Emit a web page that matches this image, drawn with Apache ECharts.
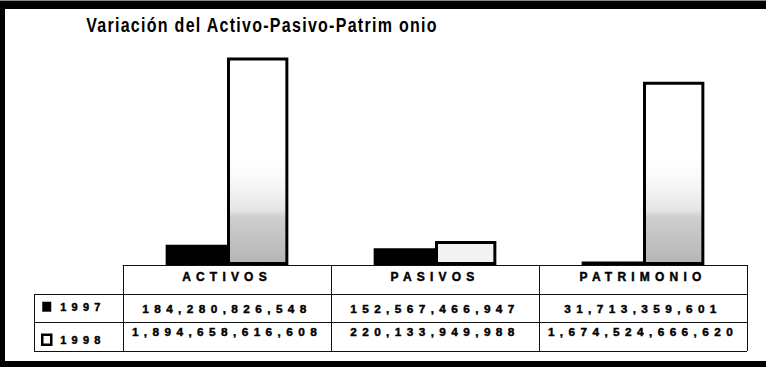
<!DOCTYPE html>
<html>
<head>
<meta charset="utf-8">
<script src="https://cdn.jsdelivr.net/npm/echarts@6/dist/echarts.min.js"></script>
<style>
  html, body { margin: 0; padding: 0; background: #fff; }
  #chart { width: 766px; height: 367px; }
</style>
</head>
<body>
<div id="chart"></div>
<script>
// Balance figures by account group and year
const categories = ['ACTIVOS', 'PASIVOS', 'PATRIMONIO'];
const years = ['1997', '1998'];
const values1997 = [184280826548, 152567466947, 31713359601];
const values1998 = [1894658616608, 220133949988, 1674524666620];
const titleText = 'Variación del Activo-Pasivo-Patrim onio';

const W = 766, H = 367;
const GRID = { left: 123, right: 19, top: 46, bottom: 102 };
const axisY = H - GRID.bottom;            // baseline of the bars / top of the table
const rowLines = [axisY + 29, axisY + 57, axisY + 86];
const tableLeft = 34, tableRight = W - GRID.right;

const fmt = v => v.toLocaleString('en-US');
const labelFont = '"Liberation Sans", Arial, sans-serif';
// heavy lettering for the table
const heavy = { fontFamily: labelFont, fontWeight: 'bold', color: '#000', textBorderColor: '#000', textBorderWidth: 0.45 };

// 1998 bars: white boxes with a grey wash towards the base
const wash = {
  type: 'linear', x: 0, y: axisY - 110, x2: 0, y2: axisY, global: true,
  colorStops: [
    { offset: 0, color: '#ffffff' },
    { offset: 0.2, color: '#fafafa' },
    { offset: 0.5, color: '#e6e6e6' },
    { offset: 0.56, color: '#cfcfcf' },
    { offset: 1, color: '#b4b4b4' }
  ]
};
const fill1998 = [wash, '#f2f2f2', wash];

const chart = echarts.init(document.getElementById('chart'), null, { renderer: 'svg' });

const hLine = (x1, x2, y) => ({
  type: 'line', silent: true, z: 5,
  shape: { x1, y1: y + 0.5, x2, y2: y + 0.5 },
  style: { stroke: '#111', lineWidth: 1 }
});

chart.setOption({
  animation: false,
  backgroundColor: '#fff',
  legend: {
    orient: 'vertical', left: 41, top: 301, padding: 0,
    itemWidth: 9, itemHeight: 10, itemGap: 21,
    icon: 'rect',
    textStyle: Object.assign({ fontSize: 11, padding: [0, 0, 0, 4] }, heavy),
    data: [
      { name: years[0], itemStyle: { color: '#000' } },
      { name: years[1], itemStyle: { color: '#fff', borderColor: '#000', borderWidth: 2.5 } }
    ]
  },
  grid: GRID,
  xAxis: [
    {
      type: 'category', data: categories, position: 'bottom',
      axisLine: { lineStyle: { color: '#111', width: 1 } },
      axisTick: { show: true, length: 86, lineStyle: { color: '#111', width: 1 } },
      axisLabel: Object.assign({ margin: 6, fontSize: 12 }, heavy)
    },
    {
      type: 'category', data: categories, position: 'bottom', offset: 38,
      axisLine: { show: false }, axisTick: { show: false },
      axisLabel: Object.assign({ margin: 0, fontSize: 11.8, formatter: (v, i) => fmt(values1997[i]) }, heavy)
    },
    {
      type: 'category', data: categories, position: 'bottom', offset: 61,
      axisLine: { show: false }, axisTick: { show: false },
      axisLabel: Object.assign({ margin: 0, fontSize: 11.8, formatter: (v, i) => fmt(values1998[i]) }, heavy)
    }
  ],
  yAxis: { type: 'value', min: 0, max: 2e12, show: false, splitLine: { show: false } },
  series: [
    {
      name: years[0], type: 'bar', xAxisIndex: 0,
      barGap: 0, barCategoryGap: '41%',
      itemStyle: { color: '#000' },
      data: values1997
    },
    {
      name: years[1], type: 'bar', xAxisIndex: 0,
      barGap: 0, barCategoryGap: '41%',
      itemStyle: { borderColor: '#000', borderWidth: 3 },
      data: values1998.map((v, i) => ({ value: v, itemStyle: { color: fill1998[i] } }))
    }
  ],
  graphic: [
    // condensed heading
    { type: 'text', silent: true, z: 20, x: 262, y: 25, scaleX: 0.8, scaleY: 1,
      style: { text: titleText, textAlign: 'center', textVerticalAlign: 'middle',
        font: 'bold 20px "Liberation Sans", Arial, sans-serif', fill: '#000' } },
    // page frame
    { type: 'rect', silent: true, z: 10, shape: { x: 0, y: 0, width: W, height: 9 }, style: { fill: '#000' } },
    { type: 'rect', silent: true, z: 11, shape: { x: 0, y: 0, width: W, height: 1 }, style: { fill: '#8a8a8a' } },
    { type: 'rect', silent: true, z: 10, shape: { x: 0, y: 0, width: 5, height: H }, style: { fill: '#000' } },
    { type: 'rect', silent: true, z: 10, shape: { x: 0, y: H - 6, width: W, height: 6 }, style: { fill: '#000' } },
    // data table rules
    hLine(tableLeft, tableRight, rowLines[0]),
    hLine(tableLeft, tableRight, rowLines[1]),
    hLine(tableLeft, tableRight, rowLines[2]),
    { type: 'line', silent: true, z: 5,
      shape: { x1: tableLeft + 0.5, y1: rowLines[0], x2: tableLeft + 0.5, y2: rowLines[2] + 1 },
      style: { stroke: '#111', lineWidth: 1 } }
  ]
});

// Wide tracking on the texts, keyed by their font size
function spaceLetters() {
  document.querySelectorAll('#chart svg text').forEach(t => {
    const fs = parseFloat(getComputedStyle(t).fontSize);
    let ls = 0;
    if (fs >= 18) ls = 1.6;
    else if (fs === 12) ls = 5.2;
    else if (fs > 11.5) ls = 5.4;
    else if (fs === 11) ls = 5.2;
    t.style.letterSpacing = ls + 'px';
  });
}
chart.on('finished', spaceLetters);
spaceLetters();
setTimeout(spaceLetters, 50);
</script>
</body>
</html>
